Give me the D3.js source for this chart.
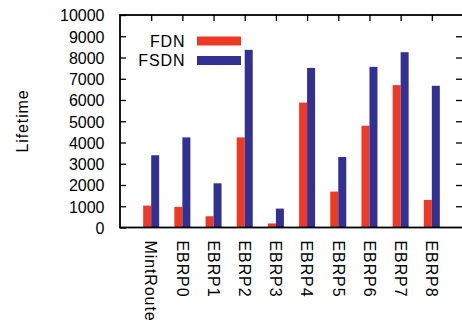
<!DOCTYPE html>
<html>
<head>
<meta charset="utf-8">
<script src="https://cdn.jsdelivr.net/npm/d3@7"></script>
<style>
  html, body { margin: 0; padding: 0; background: #fff; }
  svg text { font-family: "Liberation Sans", Arial, Helvetica, sans-serif; fill: #000; }
</style>
</head>
<body>
<svg id="chart" width="462" height="325"></svg>
<script>
// Network lifetime per routing protocol
const categories = ["MintRoute", "EBRP0", "EBRP1", "EBRP2", "EBRP3", "EBRP4", "EBRP5", "EBRP6", "EBRP7", "EBRP8"];
const fdn  = [1030, 970, 530, 4240, 190, 5880, 1690, 4790, 6700, 1300];
const fsdn = [3400, 4240, 2080, 8360, 890, 7510, 3320, 7560, 8250, 6670];
const seriesNames = ["FDN", "FSDN"];
const seriesColors = ["#ee3a24", "#333093"];
const yTicks = [0, 1000, 2000, 3000, 4000, 5000, 6000, 7000, 8000, 9000, 10000];

const svg = d3.select("#chart");
const plotL = 120, plotR = 463, plotT = 15, plotB = 227.5;

// categories sit at integer slots; the frame spans one slot beyond each end
const x = d3.scaleLinear().domain([-1, categories.length]).range([plotL, plotR]);
const y = d3.scaleLinear().domain([0, 10000]).range([plotB, plotT]);
const barW = 8;

// bars: FDN to the left of the slot centre, FSDN to the right
const series = [fdn, fsdn];
series.forEach((vals, s) => {
  svg.append("g").selectAll("rect")
    .data(vals)
    .join("rect")
    .attr("x", (d, i) => x(i) + (s === 0 ? -barW : 0))
    .attr("width", barW)
    .attr("y", d => y(d))
    .attr("height", d => y(0) - y(d))
    .attr("fill", seriesColors[s]);
});

// left axis: labels outside, ticks pointing inward
const yAxisL = svg.append("g").attr("transform", `translate(${plotL},0)`)
  .call(d3.axisLeft(y).tickValues(yTicks).tickSize(-6).tickPadding(15.5).tickFormat(d3.format("d")));
yAxisL.select(".domain").remove();
yAxisL.selectAll("text").style("font-size", "16px").attr("dy", "0.36em");
yAxisL.selectAll("line").attr("stroke", "#000").attr("stroke-width", 1.3);

// right axis ticks (inward, no labels)
const yAxisR = svg.append("g").attr("transform", `translate(${plotR},0)`)
  .call(d3.axisRight(y).tickValues(yTicks.slice(1, -1)).tickSize(-7).tickFormat(""));
yAxisR.select(".domain").remove();
yAxisR.selectAll("line").attr("stroke", "#000").attr("stroke-width", 1.3);

// top axis ticks at each category (inward)
const xAxisT = svg.append("g").attr("transform", `translate(0,${plotT})`)
  .call(d3.axisTop(x).tickValues(d3.range(categories.length)).tickSize(-6).tickFormat(""));
xAxisT.select(".domain").remove();
xAxisT.selectAll("line").attr("stroke", "#000").attr("stroke-width", 1.3);

// frame
svg.append("rect")
  .attr("x", plotL).attr("y", plotT)
  .attr("width", plotR - plotL).attr("height", plotB - plotT)
  .attr("fill", "none").attr("stroke", "#000").attr("stroke-width", 1.8);

// category labels, rotated to read downward
svg.append("g").selectAll("text")
  .data(categories)
  .join("text")
  .attr("transform", (d, i) => `translate(${x(i)},${plotB + 13}) rotate(90)`)
  .attr("dy", "0.36em")
  .attr("text-anchor", "start")
  .style("font-size", "16px")
  .style("letter-spacing", "0.9px")
  .text(d => d);

// y axis title
svg.append("text")
  .attr("transform", `translate(22,121) rotate(-90)`)
  .attr("dy", "0.36em")
  .attr("text-anchor", "middle")
  .style("font-size", "16px")
  .style("letter-spacing", "0.9px")
  .text("Lifetime");

// legend
const legend = svg.append("g");
seriesNames.forEach((name, s) => {
  const cy = 41 + s * 19.5;
  legend.append("text")
    .attr("x", 185.5).attr("y", cy)
    .attr("dy", "0.36em")
    .attr("text-anchor", "end")
    .style("font-size", "16px")
    .style("letter-spacing", "0.9px")
    .text(name);
  legend.append("rect")
    .attr("x", 197).attr("y", cy - 4.5)
    .attr("width", 44).attr("height", 9)
    .attr("fill", seriesColors[s]);
});
</script>
</body>
</html>
